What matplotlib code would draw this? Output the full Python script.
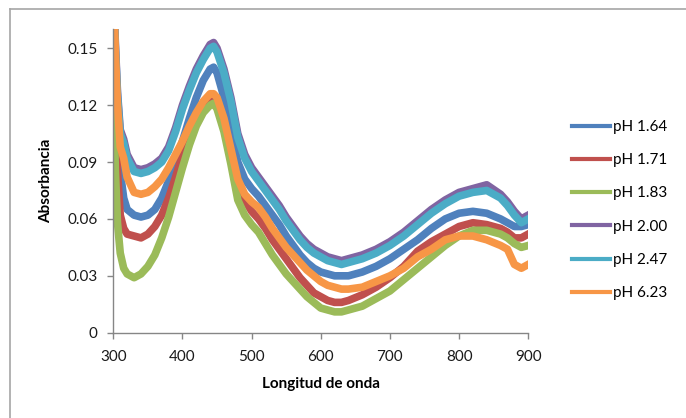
import matplotlib
matplotlib.use("Agg")
import matplotlib.pyplot as plt
from matplotlib.lines import Line2D

# ----------------------------------------------------------------------
# Data (absorbance vs wavelength, nm)
# ----------------------------------------------------------------------

wavelength = [300, 303, 306, 310, 315, 320, 330, 340, 350, 360, 370, 380,
              390, 400, 410, 420, 430, 440, 445, 450, 460, 470, 480, 490,
              500, 510, 520, 530, 540, 550, 560, 570, 580, 590, 600, 610,
              620, 630, 640, 660, 680, 700, 720, 740, 760, 780, 800, 820,
              840, 860, 870, 880, 890, 900]

ph_164 = [0.175, 0.140, 0.110, 0.085, 0.071, 0.065, 0.062, 0.061, 0.062,
          0.065, 0.071, 0.080, 0.090, 0.101, 0.113, 0.124, 0.133, 0.139,
          0.140, 0.137, 0.124, 0.107, 0.090, 0.081, 0.076, 0.072, 0.067,
          0.062, 0.057, 0.051, 0.046, 0.041, 0.037, 0.034, 0.032, 0.031,
          0.030, 0.030, 0.030, 0.032, 0.035, 0.039, 0.044, 0.049, 0.055,
          0.060, 0.063, 0.064, 0.063, 0.060, 0.058, 0.056, 0.056, 0.057]

ph_171 = [0.165, 0.120, 0.085, 0.062, 0.055, 0.052, 0.051, 0.050, 0.052,
          0.056, 0.062, 0.071, 0.082, 0.094, 0.105, 0.114, 0.120, 0.124,
          0.124, 0.121, 0.110, 0.094, 0.079, 0.070, 0.064, 0.060, 0.055,
          0.049, 0.044, 0.039, 0.034, 0.029, 0.025, 0.021, 0.019, 0.017,
          0.016, 0.016, 0.017, 0.020, 0.024, 0.029, 0.035, 0.043, 0.048,
          0.052, 0.056, 0.058, 0.057, 0.055, 0.053, 0.050, 0.050, 0.052]

ph_183 = [0.130, 0.085, 0.058, 0.042, 0.034, 0.031, 0.029, 0.031, 0.035,
          0.041, 0.050, 0.061, 0.074, 0.087, 0.099, 0.109, 0.116, 0.120,
          0.121, 0.118, 0.106, 0.089, 0.070, 0.062, 0.057, 0.053, 0.047,
          0.041, 0.036, 0.031, 0.027, 0.023, 0.019, 0.016, 0.013, 0.012,
          0.011, 0.011, 0.012, 0.014, 0.018, 0.022, 0.028, 0.034, 0.040,
          0.046, 0.051, 0.054, 0.054, 0.052, 0.050, 0.047, 0.045, 0.046]

ph_200 = [0.182, 0.152, 0.127, 0.107, 0.102, 0.094, 0.087, 0.086, 0.087,
          0.089, 0.092, 0.098, 0.108, 0.120, 0.130, 0.139, 0.146, 0.152,
          0.153, 0.150, 0.139, 0.124, 0.105, 0.094, 0.087, 0.082, 0.077,
          0.072, 0.067, 0.061, 0.056, 0.051, 0.047, 0.044, 0.042, 0.040,
          0.039, 0.038, 0.039, 0.041, 0.044, 0.048, 0.053, 0.059, 0.065,
          0.070, 0.074, 0.076, 0.078, 0.073, 0.069, 0.064, 0.060, 0.062]

ph_247 = [0.180, 0.150, 0.125, 0.105, 0.100, 0.092, 0.085, 0.084, 0.085,
          0.087, 0.090, 0.096, 0.106, 0.118, 0.128, 0.137, 0.144, 0.150,
          0.151, 0.148, 0.137, 0.122, 0.103, 0.092, 0.085, 0.080, 0.075,
          0.070, 0.065, 0.059, 0.054, 0.049, 0.045, 0.042, 0.040, 0.038,
          0.037, 0.036, 0.037, 0.039, 0.042, 0.046, 0.051, 0.057, 0.063,
          0.068, 0.072, 0.074, 0.075, 0.071, 0.067, 0.062, 0.058, 0.060]

ph_623 = [0.180, 0.148, 0.120, 0.098, 0.092, 0.082, 0.074, 0.073, 0.074,
          0.077, 0.081, 0.087, 0.094, 0.101, 0.109, 0.116, 0.122, 0.126,
          0.126, 0.124, 0.113, 0.097, 0.081, 0.073, 0.069, 0.066, 0.061,
          0.055, 0.050, 0.045, 0.041, 0.037, 0.033, 0.030, 0.027, 0.025,
          0.024, 0.023, 0.023, 0.024, 0.027, 0.030, 0.034, 0.040, 0.044,
          0.049, 0.051, 0.051, 0.049, 0.046, 0.044, 0.036, 0.034, 0.036]

series_labels = ["pH 1.64", "pH 1.71", "pH 1.83", "pH 2.00", "pH 2.47", "pH 6.23"]
series_values = [ph_164, ph_171, ph_183, ph_200, ph_247, ph_623]
series_colors = ["#4F81BD", "#C0504D", "#9BBB59", "#8064A2", "#4BACC6", "#F79646"]

x_ticks = [300, 400, 500, 600, 700, 800, 900]
y_ticks = [0, 0.03, 0.06, 0.09, 0.12, 0.15]
y_tick_labels = ["0", "0.03", "0.06", "0.09", "0.12", "0.15"]

# ----------------------------------------------------------------------
# Plot
# ----------------------------------------------------------------------

plt.rcParams["font.family"] = ["Lato", "DejaVu Sans"]
AXIS_GREY = "#868686"

fig = plt.figure(figsize=(6.86, 4.18), dpi=100)
ax = fig.add_axes([0.1652, 0.204, 0.6048, 0.726])

for vals, label, color in zip(series_values, series_labels, series_colors):
    ax.plot(wavelength, vals, color=color, lw=5.5, label=label,
            solid_joinstyle="round")

ax.set_xlim(300, 900)
ax.set_ylim(0, 0.16)
ax.set_xticks(x_ticks)
ax.set_yticks(y_ticks)
ax.set_yticklabels(y_tick_labels)

for side in ("top", "right"):
    ax.spines[side].set_visible(False)
for side in ("left", "bottom"):
    ax.spines[side].set_color(AXIS_GREY)
    ax.spines[side].set_linewidth(1.0)
ax.tick_params(direction="out", length=4.5, width=1.0, color=AXIS_GREY,
               labelsize=11, labelcolor="#1a1a1a")
ax.tick_params(axis="y", pad=7)
ax.tick_params(axis="x", pad=8)

ax.set_xlabel("Longitud de onda", fontsize=11, fontweight="bold", labelpad=9)
ax.set_ylabel("Absorbancia", fontsize=11, fontweight="bold", labelpad=10)

leg = fig.legend(loc="upper left", bbox_to_anchor=(0.834, 0.713),
                 frameon=False, fontsize=11, handlelength=2.5,
                 handletextpad=0.2, labelspacing=1.26, borderpad=0,
                 borderaxespad=0)
for h in leg.legend_handles:
    h.set_linewidth(3.0)

# outer chart frame
fig.add_artist(Line2D([10 / 686, 1.0], [1 - 9 / 418, 1 - 9 / 418],
                      transform=fig.transFigure, color="#A6A6A6", lw=1.2))
fig.add_artist(Line2D([10 / 686, 10 / 686], [0.0, 1 - 9 / 418],
                      transform=fig.transFigure, color="#A6A6A6", lw=1.2))

fig.savefig("out.png", dpi=100)
